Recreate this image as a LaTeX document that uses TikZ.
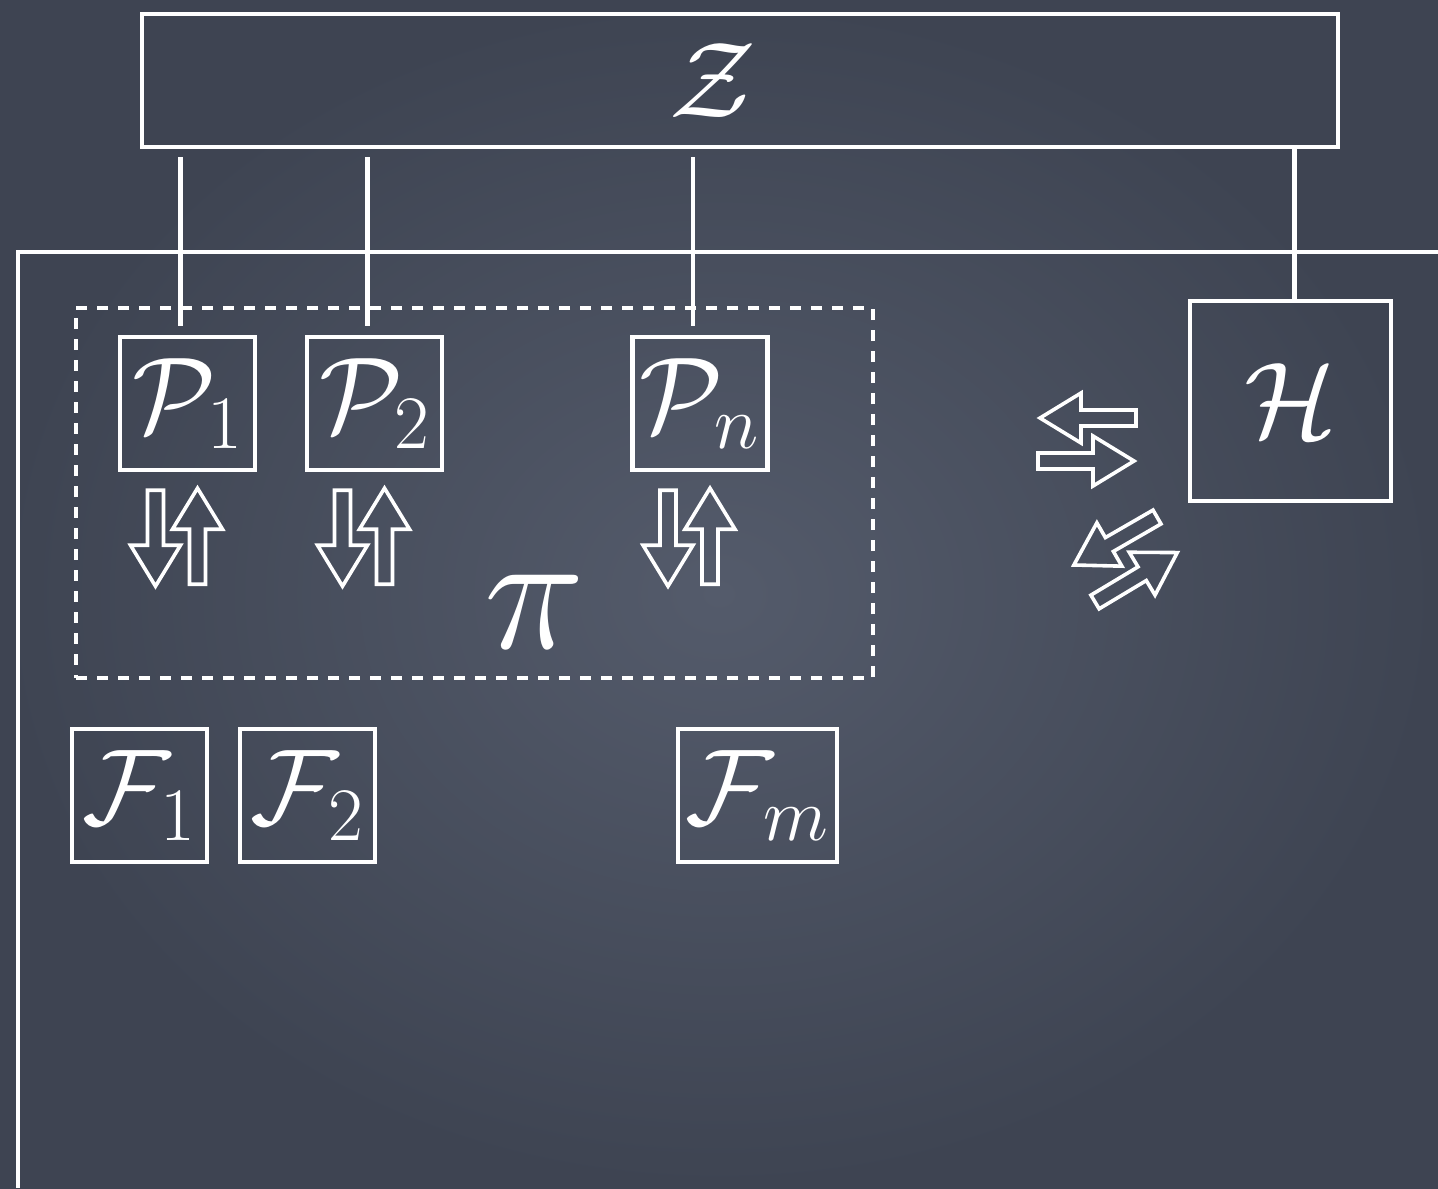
\RequirePackage{fix-cm}
\documentclass[tikz,border=0pt]{standalone}
\usepackage{amsmath}
\usetikzlibrary{calc}

\definecolor{slatein}{RGB}{84,91,107}
\definecolor{slateout}{RGB}{62,68,82}

\begin{document}
\begin{tikzpicture}[x=0.5pt, y=-0.5pt, white,
  bigmath/.style={font=\fontsize{54}{60}\selectfont},
  box/.style={draw=white, line width=2.2pt, inner sep=0pt, bigmath, text=white},
  pbox/.style={box, minimum width=67.5pt, minimum height=66.5pt},
  wire/.style={draw=white, line width=2.2pt},
  arrowline/.style={draw=white, line width=1.8pt, line join=miter},
  blkarrow/.pic={\draw[arrowline] (0,-8) -- (55,-8) -- (55,-25) -- (96,0) -- (55,25) -- (55,8) -- (0,8) -- cycle;}]
  \useasboundingbox (0,0) rectangle (1438,1188);
  \shade[inner color=slatein, outer color=slateout] (0,0) rectangle (1438,1188);
  % environment frame
  \draw[wire] (1438,252) -- (18,252) -- (18,1188);
  \node[box, minimum width=598pt, minimum height=66.5pt,
    label={[bigmath, text=white, xshift=-13.5pt]center:$\mathcal{Z}$}] (zbox) at (740,80.5) {};
  \node[draw=white, line width=2.2pt, dash pattern=on 5.5pt off 5pt,
    minimum width=398.5pt, minimum height=185pt] (group) at (474.5,493) {};
  \node[pbox] (p1) at (187.5,403.5) {$\mathcal{P}_1$};
  \node[pbox] (p2) at (374.5,403.5) {$\mathcal{P}_2$};
  \node[pbox] (pn) at (700,403.5) {$\mathcal{P}_n$};
  \node[text=white, font=\fontsize{85}{90}\selectfont] (pi) at (535,612) {$\pi$};
  \node[pbox] (f1) at (139.5,795.5) {$\mathcal{F}_1$};
  \node[pbox] (f2) at (307.5,795.5) {$\mathcal{F}_2$};
  \node[pbox, minimum width=79.5pt] (fm) at (757.5,795.5) {$\mathcal{F}_m$};
  \node[box, minimum width=100.5pt, minimum height=100pt] (h) at (1290.5,401) {$\mathcal{H}$};
  % wires from Z
  \foreach \b in {p1,p2,pn}
    \draw[wire] ($(\b.north |- zbox.south)+(-7,8)$) -- ($(\b.north)+(-7,-9)$);
  \draw[wire] ($(h.north |- zbox.south)+(4,0)$) -- ($(h.north)+(4,0)$);
  % messages
  \foreach \b in {p1,p2,pn}{
    \pic[rotate=-90] at ($(\b.south)+(-32,18)$) {blkarrow};
    \pic[rotate=90] at ($(\b.south)+(10,112)$) {blkarrow};
  }
  \pic[rotate=180] at (1136,418) {blkarrow};
  \pic at (1038,461) {blkarrow};
  \pic[rotate=210] at (1157,517) {blkarrow};
  \pic[rotate=31] at (1095,602) {blkarrow};
\end{tikzpicture}
\end{document}
